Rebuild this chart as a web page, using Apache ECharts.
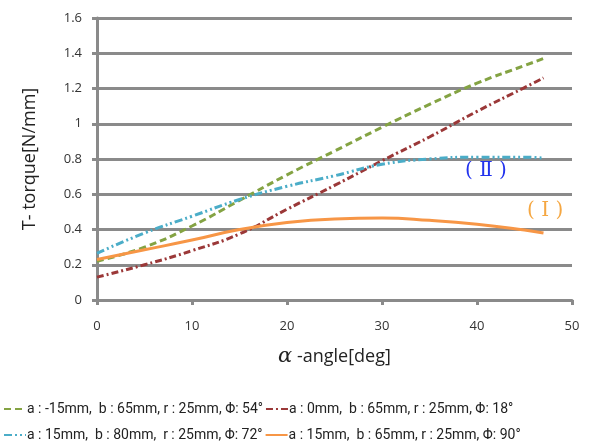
<!DOCTYPE html>
<html>
<head>
<meta charset="utf-8">
<script src="https://cdn.jsdelivr.net/npm/echarts@6/dist/echarts.min.js"></script>
<style>html,body{margin:0;padding:0;background:#fff}#c{width:601px;height:446px}</style>
</head>
<body>
<div id="c"></div>
<script>
var angles = [0, 5, 10, 15, 20, 25, 30, 35, 40, 45, 47];
var seriesNames = [
  'a : -15mm,  b : 65mm, r : 25mm, Φ: 54°',
  'a : 0mm,  b : 65mm, r : 25mm, Φ: 18°',
  'a : 15mm,  b : 80mm,  r : 25mm, Φ: 72°',
  'a : 15mm,  b : 65mm, r : 25mm, Φ: 90°'
];
var greenVals  = [0.22, 0.30, 0.42, 0.565, 0.71, 0.845, 0.98, 1.11, 1.23, 1.33, 1.37];
var redVals    = [0.13, 0.20, 0.28, 0.375, 0.515, 0.65, 0.79, 0.925, 1.07, 1.205, 1.26];
var blueVals   = [0.265, 0.38, 0.475, 0.57, 0.645, 0.705, 0.77, 0.80, 0.81, 0.81, 0.805];
var orangeVals = [0.23, 0.285, 0.34, 0.40, 0.44, 0.46, 0.465, 0.452, 0.43, 0.397, 0.38];
var yTicks = {min: 0, max: 1.6, interval: 0.2};
var xTicks = {min: 0, max: 50, interval: 10};

function pairs(v){ return angles.map(function(a,i){ return [a, v[i]]; }); }

var axisColor = '#8a8a8a';
var chart = echarts.init(document.getElementById('c'));
function mk(name, vals, color, dash){
  return {
    name: name, type: 'line', data: pairs(vals), smooth: 0.5,
    symbol: 'none', showSymbol: false,
    lineStyle: {color: color, width: 3, type: dash},
    itemStyle: {color: color}
  };
}
var legendText = {fontFamily: 'Roboto', fontSize: 14, color: '#222', padding: [0,0,0,-4]};
chart.setOption({
  animation: false,
  backgroundColor: '#fff',
  grid: {left: 97, right: 29, top: 18, bottom: 146},
  xAxis: {
    type: 'value', min: xTicks.min, max: xTicks.max, interval: xTicks.interval,
    axisLine: {lineStyle: {color: axisColor, width: 3}},
    axisTick: {show: true, length: 5, lineStyle: {color: axisColor, width: 3}},
    splitLine: {show: false},
    axisLabel: {color: '#333', fontSize: 13, fontFamily: 'Open Sans', margin: 20},
    name: '{a|α}{b| -angle[deg]}', nameLocation: 'middle', nameGap: 46,
    nameTextStyle: {rich: {
      a: {fontFamily: 'DejaVu Serif', fontStyle: 'italic', fontSize: 21, color: '#222'},
      b: {fontFamily: 'Open Sans', fontSize: 18, color: '#222'}
    }}
  },
  yAxis: {
    type: 'value', min: yTicks.min, max: yTicks.max, interval: yTicks.interval,
    axisLine: {show: true, lineStyle: {color: axisColor, width: 3}},
    axisTick: {show: true, length: 5, lineStyle: {color: axisColor, width: 3}},
    splitLine: {show: true, lineStyle: {color: axisColor, width: 3}},
    axisLabel: {color: '#333', fontSize: 13, fontFamily: 'Open Sans', margin: 15},
    name: 'T- torque[N/mm]', nameLocation: 'middle', nameRotate: 90, nameGap: 58,
    nameTextStyle: {fontFamily: 'Open Sans', fontSize: 18, color: '#222'}
  },
  legend: [
    {data: [seriesNames[0], seriesNames[1]], left: -2, top: 397, itemWidth: 22, itemHeight: 10, itemGap: 2,
     itemStyle: {opacity: 0}, textStyle: legendText},
    {data: [seriesNames[2], seriesNames[3]], left: -2, top: 423, itemWidth: 22, itemHeight: 10, itemGap: 2,
     itemStyle: {opacity: 0}, textStyle: legendText}
  ],
  graphic: [
    {type: 'text', left: 465, top: 161, style: {text: '( Ⅱ )', fill: '#2233ee', font: '20px "DejaVu Serif"'}},
    {type: 'text', left: 527, top: 201, style: {text: '( Ⅰ )', fill: '#f5a742', font: '20px "DejaVu Serif"'}}
  ],
  series: [
    mk(seriesNames[0], greenVals, '#84a343', [7, 4]),
    mk(seriesNames[1], redVals, '#9b3838', [7, 3, 2, 3]),
    mk(seriesNames[2], blueVals, '#4badc8', [8, 3, 2, 3, 2, 3]),
    mk(seriesNames[3], orangeVals, '#f79646', 'solid')
  ]
});
</script>
</body>
</html>
